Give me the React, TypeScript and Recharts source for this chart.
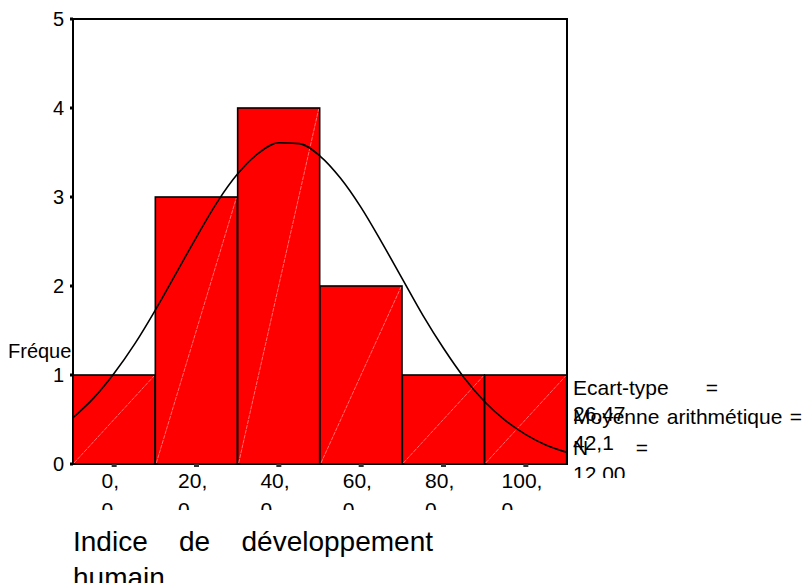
import React from 'react';
import { ComposedChart, Bar, Line, XAxis, YAxis, ReferenceArea } from 'recharts';

// histogram bins (centre of each 20-wide class) and counts
const binCenters = [0, 20, 40, 60, 80, 100];
const frequencies = [1, 3, 4, 2, 1, 1];
const binLabels = ['0,0', '20,0', '40,0', '60,0', '80,0', '100,0'];

// normal curve
const curveX = [-10, -5, 0, 5, 10, 15, 20, 25, 30, 35, 40, 45, 50, 55, 60, 65, 70, 75, 80, 85, 90, 95, 100, 105, 110];
const curveY = [0.52, 0.74, 1.02, 1.35, 1.73, 2.14, 2.55, 2.94, 3.26, 3.49, 3.61, 3.6, 3.46, 3.21, 2.88, 2.49, 2.08, 1.67, 1.3, 0.97, 0.7, 0.49, 0.33, 0.21, 0.13];

const yTicks = [0, 1, 2, 3, 4, 5];

const statLabels = ['Ecart-type', 'Moyenne arithmétique', 'N'];
const statValues = ['26,47', '42,1', '12,00'];

const FONT = '"Liberation Sans", Arial, sans-serif';

const barData = binCenters.map((x, i) => ({ x, count: frequencies[i] }));
const curveData = curveX.map((x, i) => ({ x, density: curveY[i] }));

const HistBar = (props: any) => {
    const { x, y, width, height } = props;
    return (
        <g>
            <rect x={x} y={y} width={width} height={height} fill="#ff0000" stroke="#000" strokeWidth={1.6} />
            <line
                x1={x + 1}
                y1={y + height - 1}
                x2={x + width - 1}
                y2={y + 1}
                stroke="#ff9c9c"
                strokeWidth={0.7}
                strokeDasharray="4 1"
            />
        </g>
    );
};

const XTick = (props: any) => {
    const { x, y, payload, index } = props;
    const label = binLabels[binCenters.indexOf(payload.value)] ?? String(payload.value);
    const [head, tail] = label.split(',');
    const digits = label.length - 1;
    const w = 21 * (0.556 * digits + 0.278);
    const left = x - w / 2 + 2;
    return (
        <g>
            <defs>
                <clipPath id={`xtick-clip-${index}`}>
                    <rect x={left - 5} y={y} width={w + 10} height={510 - y} />
                </clipPath>
            </defs>
            <text
                clipPath={`url(#xtick-clip-${index})`}
                x={left}
                y={y}
                fontFamily={FONT}
                fontSize={21}
                fill="#000"
                textAnchor="start"
            >
                <tspan x={left} dy={19}>{head},</tspan>
                <tspan x={left} dy={29}>{tail}</tspan>
            </text>
        </g>
    );
};

// where each stat box sits and how wide it is (its text is justified)
const statBoxes = [
    { top: 375, width: 145 },
    { top: 404, width: 229 },
    { top: 435, width: 75 },
];

export default function App() {
    return (
        <div style={{ position: 'absolute', left: 0, top: 0, width: 803, height: 583, overflow: 'hidden', background: '#fff' }}>
            <div
                style={{
                    position: 'absolute',
                    left: 8,
                    top: 339,
                    width: 65,
                    overflow: 'hidden',
                    whiteSpace: 'nowrap',
                    fontFamily: FONT,
                    fontSize: 20,
                    lineHeight: '24px',
                }}
            >
                Fréquence
            </div>

            <div style={{ position: 'absolute', left: 0, top: 0 }}>
                <ComposedChart width={803} height={583} data={barData} margin={{ top: 19, right: 236, left: 0, bottom: 89 }}>
                    <XAxis
                        dataKey="x"
                        type="number"
                        domain={[-10, 110]}
                        ticks={binCenters}
                        allowDataOverflow
                        axisLine={false}
                        tickLine={{ stroke: '#333', strokeWidth: 5 }}
                        tickSize={3}
                        tickMargin={2}
                        height={30}
                        tick={<XTick />}
                        interval={0}
                    />
                    {/* hidden twin axis for the curve so its dense points don't shrink the bars */}
                    <XAxis
                        xAxisId="curve"
                        dataKey="x"
                        type="number"
                        domain={[-10, 110]}
                        allowDataOverflow
                        hide
                    />
                    <YAxis
                        type="number"
                        domain={[0, 5]}
                        ticks={yTicks}
                        width={73}
                        axisLine={false}
                        tickLine={{ stroke: '#000', strokeWidth: 3 }}
                        tickSize={3}
                        tickMargin={6}
                        tick={{ fontFamily: FONT, fontSize: 20, fill: '#000' }}
                        interval={0}
                    />
                    <Bar dataKey="count" barSize={82} shape={<HistBar />} isAnimationActive={false} />
                    <Line
                        xAxisId="curve"
                        data={curveData}
                        dataKey="density"
                        type="monotone"
                        stroke="#000"
                        strokeWidth={1.6}
                        dot={false}
                        activeDot={false}
                        isAnimationActive={false}
                    />
                    <ReferenceArea x1={-10} x2={110} y1={0} y2={5} fill="none" fillOpacity={0} stroke="#000" strokeWidth={2} ifOverflow="visible" />
                </ComposedChart>
            </div>

            <div
                style={{
                    position: 'absolute',
                    left: 73,
                    top: 524,
                    width: 360,
                    textAlign: 'justify',
                    fontFamily: FONT,
                    fontSize: 28,
                    lineHeight: '36px',
                }}
            >
                Indice de développement humain
            </div>

            <div style={{ position: 'absolute', left: 573, top: 360, width: 230, height: 118, overflow: 'hidden' }}>
                {statLabels.map((label, i) => (
                    <div
                        key={label}
                        style={{
                            position: 'absolute',
                            left: 0,
                            top: statBoxes[i].top - 360,
                            width: statBoxes[i].width,
                            textAlign: 'justify',
                            fontFamily: FONT,
                            fontSize: 21,
                            lineHeight: '25.5px',
                        }}
                    >
                        {label} = {statValues[i]}
                    </div>
                ))}
            </div>
        </div>
    );
}
